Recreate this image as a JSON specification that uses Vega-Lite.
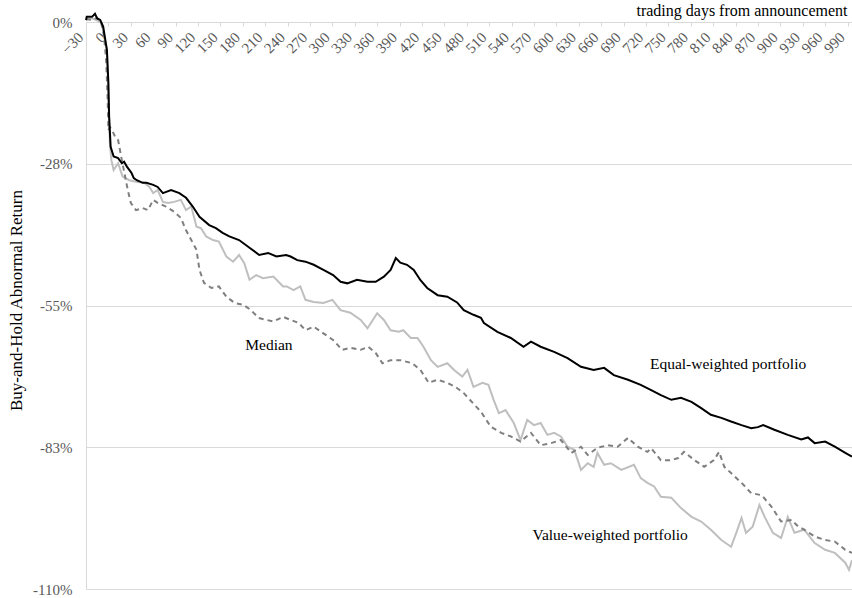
{
  "$schema": "https://vega.github.io/schema/vega-lite/v6.json",
  "width": 766,
  "height": 567,
  "autosize": "none",
  "padding": {"left": 86, "top": 22, "right": 0, "bottom": 9},
  "background": "white",
  "config": {"view": {"stroke": null}, "font": "Liberation Serif", "text": {"font": "Liberation Serif"}},
  "datasets": {
    "ew": [
      {"d":-30,"v":0.4},{"d":-29,"v":1.0},{"d":-22,"v":1.0},{"d":-18,"v":1.6},{"d":-15,"v":0.7},{"d":-11,"v":0.4},{"d":-7,"v":-0.9},{"d":-2,"v":-5.4},{"d":0,"v":-11.8},{"d":1,"v":-18.4},{"d":3,"v":-24.2},{"d":7,"v":-26.1},{"d":13,"v":-26.4},{"d":18,"v":-27.4},{"d":21,"v":-27.1},{"d":25,"v":-28.1},{"d":28,"v":-28.7},{"d":31,"v":-29.3},{"d":34,"v":-30.3},{"d":38,"v":-30.7},{"d":46,"v":-31.2},{"d":51,"v":-31.2},{"d":60,"v":-31.6},{"d":66,"v":-32.0},{"d":73,"v":-33.2},{"d":84,"v":-32.6},{"d":95,"v":-33.2},{"d":104,"v":-34.1},{"d":113,"v":-35.8},{"d":122,"v":-37.8},{"d":135,"v":-39.4},{"d":144,"v":-40.0},{"d":153,"v":-40.9},{"d":162,"v":-41.6},{"d":175,"v":-42.3},{"d":189,"v":-43.8},{"d":202,"v":-45.2},{"d":214,"v":-44.8},{"d":225,"v":-45.5},{"d":238,"v":-45.2},{"d":244,"v":-45.5},{"d":253,"v":-46.2},{"d":264,"v":-46.5},{"d":275,"v":-47.1},{"d":288,"v":-48.1},{"d":301,"v":-49.1},{"d":311,"v":-50.4},{"d":320,"v":-50.7},{"d":333,"v":-50.0},{"d":347,"v":-50.4},{"d":358,"v":-50.4},{"d":369,"v":-49.4},{"d":378,"v":-48.1},{"d":385,"v":-45.8},{"d":391,"v":-46.7},{"d":400,"v":-47.1},{"d":409,"v":-48.1},{"d":418,"v":-50.1},{"d":427,"v":-51.6},{"d":441,"v":-53.0},{"d":454,"v":-53.3},{"d":467,"v":-54.4},{"d":476,"v":-55.9},{"d":489,"v":-56.8},{"d":499,"v":-57.4},{"d":503,"v":-58.4},{"d":521,"v":-60.1},{"d":539,"v":-61.3},{"d":556,"v":-63.0},{"d":566,"v":-62.0},{"d":579,"v":-63.0},{"d":597,"v":-64.0},{"d":615,"v":-65.2},{"d":633,"v":-66.9},{"d":650,"v":-67.5},{"d":664,"v":-67.1},{"d":677,"v":-68.5},{"d":696,"v":-69.4},{"d":713,"v":-70.4},{"d":727,"v":-71.4},{"d":740,"v":-72.4},{"d":754,"v":-73.3},{"d":767,"v":-72.9},{"d":781,"v":-73.7},{"d":794,"v":-74.9},{"d":807,"v":-76.2},{"d":821,"v":-76.8},{"d":834,"v":-77.5},{"d":848,"v":-78.2},{"d":861,"v":-78.8},{"d":870,"v":-78.6},{"d":877,"v":-78.2},{"d":892,"v":-79.1},{"d":910,"v":-80.1},{"d":928,"v":-81.0},{"d":937,"v":-80.6},{"d":946,"v":-81.7},{"d":960,"v":-81.4},{"d":973,"v":-82.4},{"d":987,"v":-83.6},{"d":996,"v":-84.3}
    ],
    "vw": [
      {"d":-30,"v":0.4},{"d":-22,"v":0.7},{"d":-16,"v":0.4},{"d":-9,"v":-0.2},{"d":-2,"v":-5.4},{"d":0,"v":-15.1},{"d":2,"v":-23.5},{"d":4,"v":-26.8},{"d":7,"v":-28.7},{"d":13,"v":-27.4},{"d":19,"v":-30.0},{"d":28,"v":-30.7},{"d":37,"v":-31.0},{"d":48,"v":-31.2},{"d":55,"v":-32.0},{"d":60,"v":-33.2},{"d":66,"v":-32.6},{"d":73,"v":-34.9},{"d":80,"v":-35.1},{"d":88,"v":-34.9},{"d":97,"v":-34.5},{"d":104,"v":-36.5},{"d":111,"v":-35.8},{"d":118,"v":-39.7},{"d":124,"v":-40.0},{"d":131,"v":-41.6},{"d":140,"v":-42.3},{"d":148,"v":-42.6},{"d":158,"v":-45.5},{"d":167,"v":-46.5},{"d":175,"v":-45.2},{"d":182,"v":-46.8},{"d":189,"v":-50.0},{"d":198,"v":-49.1},{"d":207,"v":-49.7},{"d":221,"v":-49.4},{"d":234,"v":-51.3},{"d":239,"v":-51.3},{"d":248,"v":-52.0},{"d":257,"v":-51.3},{"d":264,"v":-53.9},{"d":275,"v":-54.3},{"d":288,"v":-54.5},{"d":300,"v":-53.9},{"d":311,"v":-55.9},{"d":324,"v":-56.4},{"d":338,"v":-57.8},{"d":347,"v":-59.4},{"d":360,"v":-56.5},{"d":369,"v":-57.8},{"d":378,"v":-59.8},{"d":389,"v":-60.1},{"d":395,"v":-59.8},{"d":405,"v":-61.3},{"d":414,"v":-61.3},{"d":422,"v":-63.0},{"d":432,"v":-65.6},{"d":441,"v":-66.9},{"d":454,"v":-66.2},{"d":463,"v":-67.5},{"d":474,"v":-68.8},{"d":481,"v":-67.5},{"d":489,"v":-70.8},{"d":501,"v":-70.0},{"d":509,"v":-70.4},{"d":516,"v":-73.3},{"d":523,"v":-75.9},{"d":532,"v":-75.3},{"d":543,"v":-77.8},{"d":552,"v":-81.1},{"d":561,"v":-77.2},{"d":570,"v":-78.2},{"d":579,"v":-77.8},{"d":588,"v":-80.1},{"d":597,"v":-79.7},{"d":606,"v":-80.4},{"d":615,"v":-82.4},{"d":624,"v":-83.0},{"d":633,"v":-86.9},{"d":642,"v":-85.6},{"d":650,"v":-86.3},{"d":655,"v":-83.6},{"d":664,"v":-85.9},{"d":673,"v":-85.6},{"d":687,"v":-86.9},{"d":704,"v":-85.9},{"d":713,"v":-88.5},{"d":722,"v":-89.4},{"d":731,"v":-90.1},{"d":740,"v":-92.1},{"d":754,"v":-92.3},{"d":767,"v":-94.3},{"d":781,"v":-96.0},{"d":794,"v":-96.9},{"d":807,"v":-98.5},{"d":821,"v":-100.5},{"d":834,"v":-101.8},{"d":841,"v":-99.1},{"d":848,"v":-96.2},{"d":854,"v":-99.1},{"d":863,"v":-97.9},{"d":872,"v":-93.7},{"d":879,"v":-96.0},{"d":890,"v":-99.1},{"d":901,"v":-100.1},{"d":910,"v":-96.0},{"d":919,"v":-99.1},{"d":932,"v":-98.5},{"d":946,"v":-101.1},{"d":960,"v":-102.4},{"d":973,"v":-103.0},{"d":987,"v":-104.9},{"d":992,"v":-106.3},{"d":996,"v":-104.4}
    ],
    "md": [
      {"d":-30,"v":0.6},{"d":-22,"v":0.4},{"d":-15,"v":0.8},{"d":-10,"v":0.0},{"d":-6,"v":-2.5},{"d":-3,"v":-7.4},{"d":-1,"v":-15.1},{"d":0,"v":-21.0},{"d":2,"v":-20.4},{"d":5,"v":-21.0},{"d":9,"v":-22.3},{"d":13,"v":-22.9},{"d":18,"v":-26.8},{"d":26,"v":-32.6},{"d":30,"v":-35.1},{"d":37,"v":-36.5},{"d":46,"v":-36.1},{"d":53,"v":-36.5},{"d":60,"v":-34.5},{"d":66,"v":-35.1},{"d":77,"v":-35.8},{"d":88,"v":-36.8},{"d":97,"v":-38.0},{"d":104,"v":-40.4},{"d":111,"v":-42.3},{"d":118,"v":-44.2},{"d":122,"v":-48.1},{"d":128,"v":-50.6},{"d":138,"v":-51.6},{"d":148,"v":-51.3},{"d":158,"v":-53.3},{"d":169,"v":-54.5},{"d":181,"v":-54.9},{"d":191,"v":-55.9},{"d":201,"v":-57.4},{"d":212,"v":-57.8},{"d":221,"v":-58.1},{"d":234,"v":-57.2},{"d":244,"v":-57.8},{"d":255,"v":-58.4},{"d":264,"v":-59.8},{"d":275,"v":-59.1},{"d":288,"v":-60.4},{"d":301,"v":-61.7},{"d":313,"v":-63.6},{"d":324,"v":-63.2},{"d":338,"v":-63.6},{"d":348,"v":-63.0},{"d":358,"v":-64.2},{"d":367,"v":-66.2},{"d":378,"v":-65.6},{"d":391,"v":-65.6},{"d":407,"v":-66.2},{"d":418,"v":-67.5},{"d":429,"v":-70.0},{"d":441,"v":-69.4},{"d":454,"v":-70.0},{"d":465,"v":-70.8},{"d":476,"v":-72.0},{"d":488,"v":-73.9},{"d":499,"v":-75.6},{"d":512,"v":-78.5},{"d":526,"v":-79.7},{"d":539,"v":-80.4},{"d":552,"v":-81.4},{"d":566,"v":-79.7},{"d":579,"v":-82.1},{"d":593,"v":-81.7},{"d":606,"v":-81.1},{"d":620,"v":-83.6},{"d":633,"v":-82.4},{"d":642,"v":-84.0},{"d":655,"v":-82.6},{"d":669,"v":-82.1},{"d":682,"v":-82.4},{"d":696,"v":-80.7},{"d":709,"v":-82.4},{"d":722,"v":-83.4},{"d":727,"v":-82.7},{"d":740,"v":-85.0},{"d":754,"v":-85.0},{"d":763,"v":-84.6},{"d":771,"v":-83.4},{"d":785,"v":-85.0},{"d":798,"v":-86.3},{"d":811,"v":-85.0},{"d":818,"v":-83.4},{"d":825,"v":-86.3},{"d":834,"v":-87.5},{"d":848,"v":-89.4},{"d":861,"v":-91.4},{"d":875,"v":-91.8},{"d":888,"v":-94.0},{"d":901,"v":-96.9},{"d":915,"v":-96.6},{"d":924,"v":-97.9},{"d":932,"v":-98.5},{"d":946,"v":-99.8},{"d":960,"v":-100.5},{"d":973,"v":-100.8},{"d":987,"v":-102.4},{"d":996,"v":-103.0}
    ],
    "labels": [
      {"d":215,"v":-62.7,"t":"Median"},
      {"d":830,"v":-66.3,"t":"Equal-weighted portfolio"},
      {"d":672,"v":-99.5,"t":"Value-weighted portfolio"}
    ]
  },
  "encoding": {
    "x": {
      "field": "d", "type": "quantitative",
      "scale": {"domain": [-30, 996], "nice": false, "zero": false},
      "axis": {
        "orient": "bottom", "offset": -567,
        "values": [-30,0,30,60,90,120,150,180,210,240,270,300,330,360,390,420,450,480,510,540,570,600,630,660,690,720,750,780,810,840,870,900,930,960,990],
        "labelAngle": -45, "labelAlign": "right", "labelBaseline": "bottom",
        "labelFontSize": 15, "labelColor": "#595959", "labelFont": "Liberation Serif",
        "labelPadding": 14, "labelOverlap": false, "labelFlush": false, "labelBound": false,
        "domainColor": "#d9d9d9", "tickColor": "#d9d9d9", "tickSize": 4, "grid": false,
        "title": "trading days from announcement", "titleFont": "Liberation Serif", "titleFontSize": 16,
        "titleFontWeight": "normal", "titleColor": "#000000",
        "titleX": 761, "titleY": -4, "titleAlign": "right", "titleBaseline": "bottom", "titleAngle": 0
      }
    },
    "y": {
      "field": "v", "type": "quantitative",
      "scale": {"domain": [-110, 0], "nice": false, "zero": false},
      "axis": {
        "values": [0, -27.5, -55, -82.5, -110],
        "labelExpr": "datum.value == 0 ? '0%' : datum.value == -27.5 ? '-28%' : datum.value == -55 ? '-55%' : datum.value == -82.5 ? '-83%' : '-110%'",
        "labelFontSize": 15, "labelColor": "#595959", "labelFont": "Liberation Serif", "labelPadding": 14,
        "ticks": false, "grid": true, "gridColor": "#d9d9d9", "domainColor": "#d9d9d9",
        "title": "Buy-and-Hold Abnormal Return", "titleFont": "Liberation Serif", "titleFontSize": 17,
        "titleFontWeight": "normal", "titleColor": "#000000",
        "titleX": -70, "titleY": 278, "titleAlign": "center", "titleBaseline": "middle", "titleAngle": -90
      }
    }
  },
  "layer": [
    {"data": {"name": "vw"}, "mark": {"type": "line", "color": "#bfbfbf", "strokeWidth": 2}, "encoding": {}},
    {"data": {"name": "md"}, "mark": {"type": "line", "color": "#7f7f7f", "strokeWidth": 2, "strokeDash": [5, 4]}, "encoding": {}},
    {"data": {"name": "ew"}, "mark": {"type": "line", "color": "#000000", "strokeWidth": 2}, "encoding": {}},
    {"data": {"name": "labels"}, "mark": {"type": "text", "font": "Liberation Serif", "fontSize": 15.5, "color": "#000000", "align": "center", "baseline": "middle"}, "encoding": {"text": {"field": "t"}}}
  ]
}
